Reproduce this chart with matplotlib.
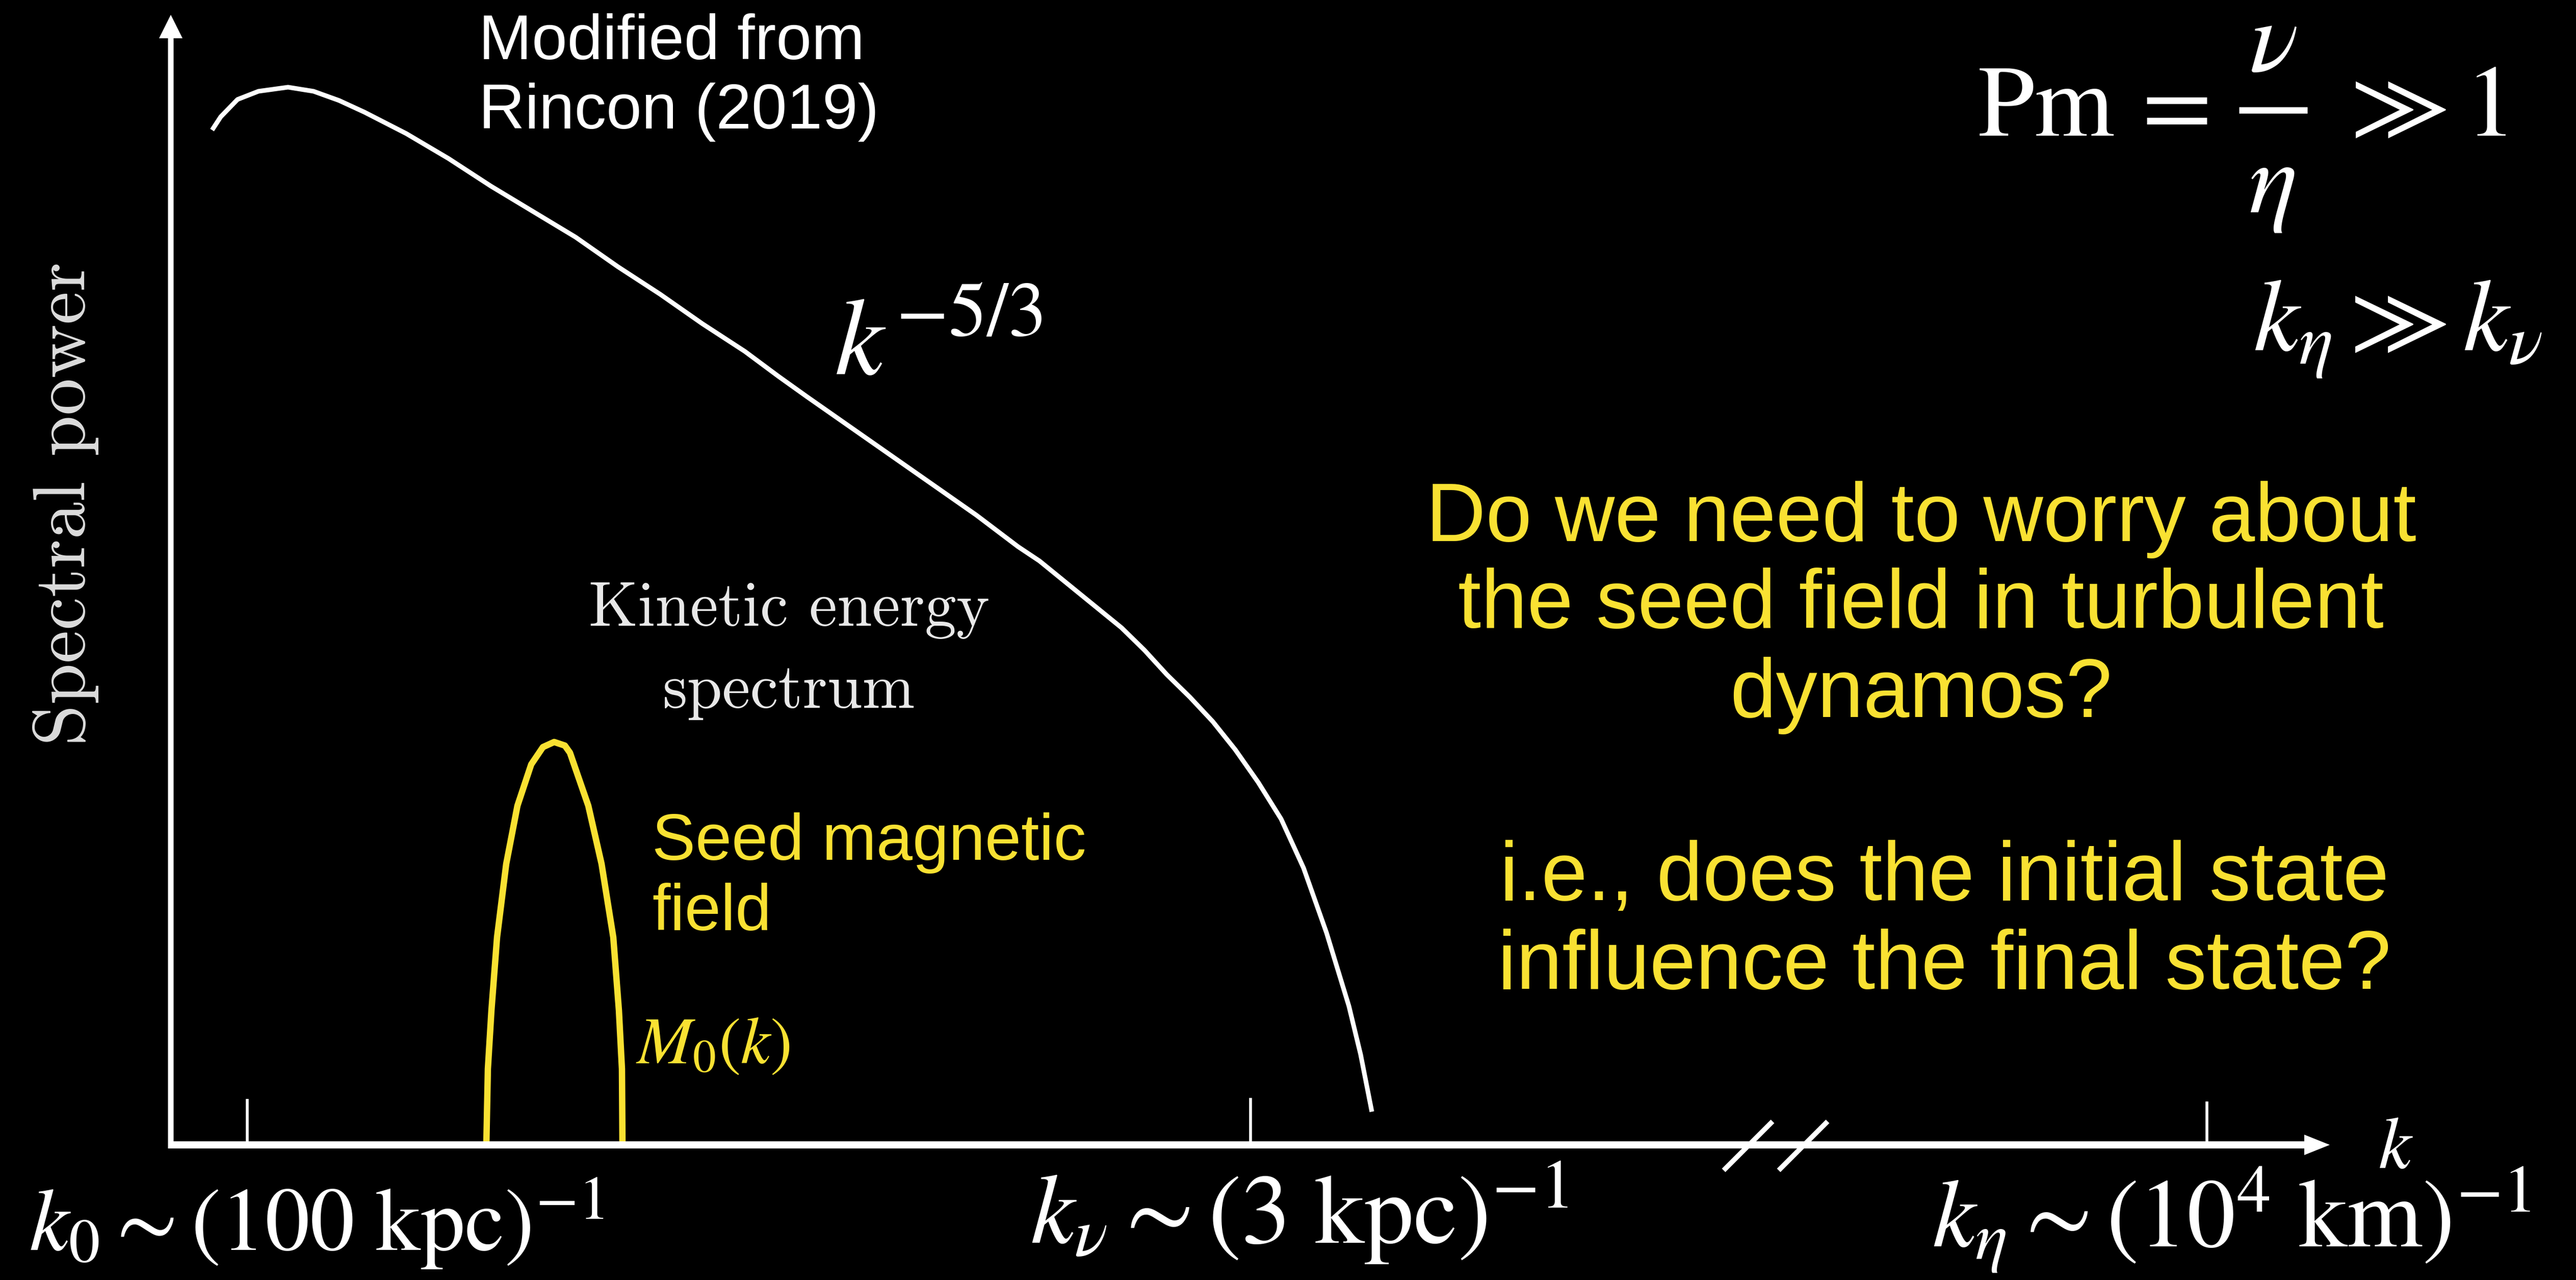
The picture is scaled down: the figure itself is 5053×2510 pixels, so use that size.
import numpy as np
import matplotlib
matplotlib.use('Agg')
import matplotlib.pyplot as plt

plt.rcParams['mathtext.fontset'] = 'stix'

# kinetic energy spectrum (k, power), sketch units measured from the axis corner
k_kin = [81, 98, 131, 172, 230, 280, 330, 380, 462, 545, 628, 711, 794, 877, 960,
         1043, 1126, 1192, 1248, 1331, 1414, 1497, 1580, 1662, 1704, 1865, 1910,
         1954, 1999, 2044, 2088, 2133, 2178, 2222, 2267, 2311, 2334, 2356]
p_kin = [1990, 2016, 2050, 2066, 2074, 2066, 2048, 2025, 1983, 1934, 1880, 1830, 1780,
         1722, 1668, 1610, 1556, 1507, 1467, 1409, 1351, 1293, 1235, 1173, 1145, 1014,
         970, 922, 878, 830, 775, 711, 639, 543, 416, 272, 177, 65]

# seed magnetic field M0(k)
k_seed = [619, 622, 629, 640, 658, 680, 707, 730, 752, 773, 783, 819, 845, 868, 879, 885, 886]
p_seed = [0, 149, 264, 407, 551, 665, 746, 780, 790, 783, 769, 665, 551, 407, 264, 149, 0]

# characteristic wavenumbers on the k axis
tick_k = [150, 2118, 3994]
tick_h = [90, 92, 85]
tick_labels = [r'$k_0 \sim (100\ \mathrm{kpc})^{-1}$',
               r'$k_\nu \sim (3\ \mathrm{kpc})^{-1}$',
               r'$k_\eta \sim (10^4\ \mathrm{km})^{-1}$']
tick_label_pos = [(-278, -207), (1686, -192), (3455, -200)]
tick_label_size = [126, 140, 137]

break_k = [3094, 3202]

yellow = '#f9e132'
serif = 'STIXGeneral'
sans = 'Liberation Sans'

fig = plt.figure(figsize=(50.53, 25.10), dpi=100, facecolor='black')
ax = fig.add_axes([0, 0, 1, 1])
ax.set_facecolor('black')
ax.set_xlim(-335, 5053 - 335)
ax.set_ylim(-265, 2245)
ax.axis('off')

# axes with arrow heads
ax.arrow(0, -7, 0, 2223, width=11, head_width=46, head_length=46,
         length_includes_head=True, fc='white', ec='none', zorder=3)
ax.arrow(-5, 0, 4240, 0, width=14, head_width=40, head_length=50,
         length_includes_head=True, fc='white', ec='none', zorder=3)

# axis break marks
for kb in break_k:
    ax.plot([kb - 48, kb + 48], [-50, 46], color='white', lw=7,
            solid_capstyle='butt', zorder=4)

ax.vlines(tick_k, 0, tick_h, color='white', lw=4, zorder=3)

ax.plot(k_kin, p_kin, color='white', lw=6.5, solid_capstyle='butt',
        solid_joinstyle='round', zorder=2)
ax.plot(k_seed, p_seed, color=yellow, lw=9, solid_joinstyle='round', zorder=2)

for lab, (x, y), fs in zip(tick_labels, tick_label_pos, tick_label_size):
    ax.text(x, y, lab, family=serif, color='white', fontsize=fs,
            ha='left', va='baseline')
ax.text(4330, -45, r'$k$', family=serif, color='white', fontsize=104,
        ha='left', va='baseline')

ax.text(-206, 1257, 'Spectral power', family='cmr10', color='#dcdcdc',
        fontsize=105, rotation=90, ha='center', va='center')

for line, y in zip(['Kinetic energy', 'spectrum'], [1018, 857]):
    ax.text(1213, y, line, family='cmr10', color='#e8e8e8', fontsize=89,
            ha='center', va='baseline')

for line, y in zip(['Modified from', 'Rincon (2019)'], [2129, 1993]):
    ax.text(604, y, line, family=sans, color='white', fontsize=90,
            ha='left', va='baseline')

ax.text(1302, 1509, r'$k^{-5/3}$', family=serif, color='white', fontsize=155,
        ha='left', va='baseline')

# magnetic Prandtl number, set as a display fraction
pm_size = 144
ax.text(3544, 1979, r'$\mathrm{Pm}$', family=serif, color='white', fontsize=pm_size,
        ha='left', va='baseline')
ax.text(3838, 1979, r'$=$', family=serif, color='white', fontsize=pm_size,
        ha='left', va='baseline')
ax.plot([4057, 4191], [2029, 2029], color='white', lw=9, solid_capstyle='butt')
ax.text(4124, 2106, r'$\nu$', family=serif, color='white', fontsize=pm_size,
        ha='center', va='baseline')
ax.text(4121, 1829, r'$\eta$', family=serif, color='white', fontsize=pm_size,
        ha='center', va='baseline')
ax.text(4252, 1979, r'$\gg$', family=serif, color='white', fontsize=pm_size,
        ha='left', va='baseline')
ax.text(4500, 1979, r'$1$', family=serif, color='white', fontsize=pm_size,
        ha='left', va='baseline')

ax.text(4085, 1558, r'$k_\eta \gg k_\nu$', family=serif, color='white', fontsize=145,
        ha='left', va='baseline')

for line, y in zip(['Seed magnetic', 'field'], [559, 421]):
    ax.text(944, y, line, family=sans, color=yellow, fontsize=92,
            ha='left', va='baseline')
ax.text(912, 160, r'$M_0(k)$', family=serif, color=yellow, fontsize=94,
        ha='left', va='baseline')

question = ['Do we need to worry about', 'the seed field in turbulent', 'dynamos?']
for line, y in zip(question, [1184, 1014, 839]):
    ax.text(3433, y, line, family=sans, color=yellow, fontsize=117,
            ha='center', va='baseline')
followup = ['i.e., does the initial state', 'influence the final state?']
for line, y in zip(followup, [480, 306]):
    ax.text(3479, y, line, family=sans, color=yellow, fontsize=117,
            ha='center', va='baseline')

fig.savefig('out.png', dpi=100, facecolor='black')
